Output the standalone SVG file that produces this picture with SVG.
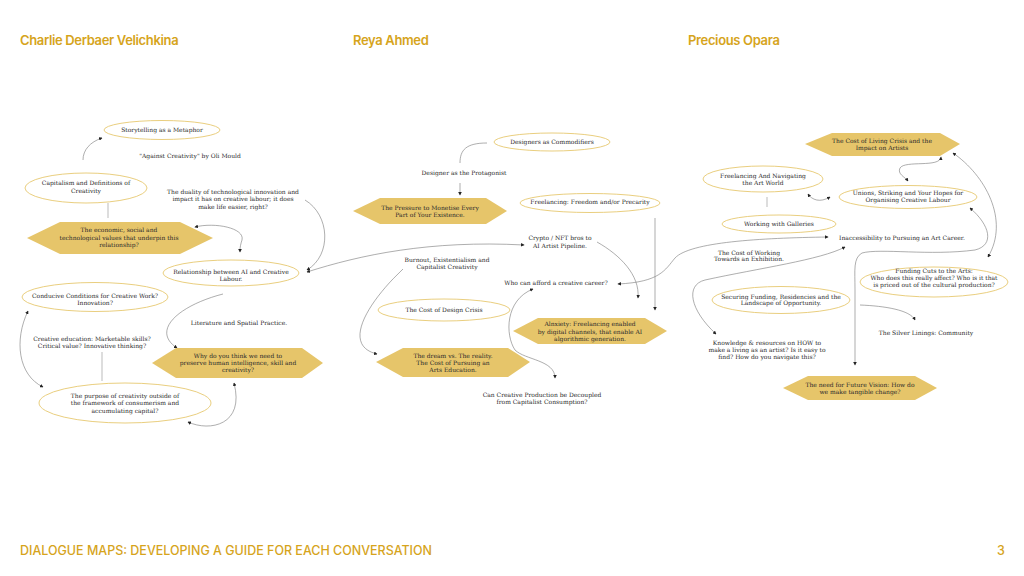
<svg xmlns="http://www.w3.org/2000/svg" width="1024" height="576" viewBox="0 0 1024 576">
<defs>
<style>
.hd{font-family:Inter,"Liberation Sans",sans-serif;font-weight:600;font-size:13px;fill:#D6A41C;letter-spacing:-0.35px}
.ft{font-family:Inter,"Liberation Sans",sans-serif;font-weight:500;font-size:12.5px;fill:#D6A41C}
.t{font-family:"DejaVu Serif","Liberation Serif",serif;font-size:6px;fill:#2a2a2a;text-anchor:middle}
.el{fill:#fff;stroke:#E6C870;stroke-width:0.9}
.hx{fill:#E6C56A;stroke:none}
.ar{fill:none;stroke:#777;stroke-width:0.6}
.vl{fill:none;stroke:#cfcfcf;stroke-width:1.4}
</style>
<marker id="ah" viewBox="0 0 6 6" refX="5" refY="3" markerWidth="3.6" markerHeight="3.6" markerUnits="userSpaceOnUse" orient="auto-start-reverse">
<path d="M0,0 L6,3 L0,6 z" fill="#222"/>
</marker>
</defs>
<rect width="1024" height="576" fill="#fff"/>

<g id="headers">
<text class="hd" x="20" y="45">Charlie Derbaer Velichkina</text>
<text class="hd" x="353" y="45">Reya Ahmed</text>
<text class="hd" x="688" y="45">Precious Opara</text>
<text class="ft" x="20" y="555" textLength="412" lengthAdjust="spacingAndGlyphs">DIALOGUE MAPS: DEVELOPING A GUIDE FOR EACH CONVERSATION</text>
<text class="ft" x="997" y="555">3</text>
</g>

<g id="connectors">
<path class="ar" d="M83,160 C83,150 90,142 102,138" marker-end="url(#ah)"/>
<path class="vl" d="M108,203 L108,218"/>
<path class="ar" d="M195,227 C215,222 245,228 242,240 C240,246 240,249 240,252" marker-start="url(#ah)" marker-end="url(#ah)"/>
<path class="ar" d="M305,200 C330,215 332,255 307,270" marker-end="url(#ah)"/>
<path class="ar" d="M307,272 C360,255 430,240 524,245" marker-start="url(#ah)" marker-end="url(#ah)"/>
<path class="ar" d="M223,294 C180,305 150,330 177,348" marker-end="url(#ah)"/>
<path class="vl" d="M102,352 L102,381"/>
<path class="ar" d="M28,311 C14,340 18,375 43,387" marker-start="url(#ah)" marker-end="url(#ah)"/>
<path class="ar" d="M188,422 C210,432 245,425 234,383" marker-start="url(#ah)" marker-end="url(#ah)"/>

<path class="ar" d="M487,143 C466,143 460,150 460,163"/>
<path class="ar" d="M460,183 L460,195" marker-end="url(#ah)"/>
<path class="ar" d="M655,218 L655,310" marker-end="url(#ah)"/>
<path class="ar" d="M597,242 C620,255 640,275 638,298" marker-end="url(#ah)"/>
<path class="ar" d="M403,269 C370,300 340,345 377,354" marker-end="url(#ah)"/>
<path class="ar" d="M618,284 C660,282 665,270 675,258 C690,242 760,238 828,237" marker-start="url(#ah)" marker-end="url(#ah)"/>
<path class="ar" d="M533,289 C505,300 505,335 515,350 C525,360 555,360 555,378" marker-start="url(#ah)" marker-end="url(#ah)"/>

<path class="ar" d="M808,194 C812,200 820,203 830,197" marker-start="url(#ah)" marker-end="url(#ah)"/>
<path class="ar" d="M941,157 C940,168 905,160 900,168 C897,174 905,177 908,181" marker-start="url(#ah)" marker-end="url(#ah)"/>
<path class="vl" d="M767,197 L767,207"/>
<path class="ar" d="M716,334 C690,310 685,285 705,280 C760,268 820,260 845,247" marker-start="url(#ah)" marker-end="url(#ah)"/>
<path class="ar" d="M953,153 C985,175 1010,220 988,257" marker-start="url(#ah)" marker-end="url(#ah)"/>
<path class="ar" d="M970,208 C990,225 995,245 975,250 C930,256 880,248 862,253 C853,258 855,270 855,290 L855,365" marker-start="url(#ah)" marker-end="url(#ah)"/>
<path class="ar" d="M860,305 C885,306 910,310 915,320" marker-end="url(#ah)"/>
</g>

<g id="n-storytelling"><ellipse class="el" cx="162" cy="130" rx="58" ry="9.5"/><text class="t" x="162" y="131.8">Storytelling as a Metaphor</text></g>
<g id="n-against"><text class="t" x="190" y="158">"Against Creativity" by Oli Mould</text></g>
<g id="n-capitalism"><ellipse class="el" cx="86" cy="188" rx="61" ry="15"/><text class="t" x="86" y="185">Capitalism and Definitions of</text><text class="t" x="86" y="192.5">Creativity</text></g>
<g id="n-economic"><polygon class="hx" points="27,238 60,222 180,222 213,238 180,254 60,254"/><text class="t" x="119" y="232">The economic, social and</text><text class="t" x="119" y="239.5">technological values that underpin this</text><text class="t" x="119" y="247">relationship?</text></g>
<g id="n-duality"><text class="t" x="233" y="193.5">The duality of technological innovation and</text><text class="t" x="233" y="201">impact it has on creative labour; it does</text><text class="t" x="233" y="208.5">make life easier, right?</text></g>
<g id="n-relationship"><ellipse class="el" cx="231" cy="273" rx="68" ry="13"/><text class="t" x="231" y="274">Relationship between AI and Creative</text><text class="t" x="231" y="281">Labour.</text></g>
<g id="n-conducive"><ellipse class="el" cx="95" cy="297" rx="73" ry="14.5"/><text class="t" x="95" y="298">Conducive Conditions for Creative Work?</text><text class="t" x="95" y="305">Innovation?</text></g>
<g id="n-literature"><text class="t" x="239" y="324.5">Literature and Spatial Practice.</text></g>
<g id="n-education"><text class="t" x="92" y="341">Creative education: Marketable skills?</text><text class="t" x="92" y="348">Critical value? Innovative thinking?</text></g>
<g id="n-why"><polygon class="hx" points="152,363 176,348 302,348 323,363 302,378 176,378"/><text class="t" x="238" y="358">Why do you think we need to</text><text class="t" x="238" y="365">preserve human intelligence, skill and</text><text class="t" x="238" y="372">creativity?</text></g>
<g id="n-purpose"><ellipse class="el" cx="125" cy="403" rx="86" ry="20"/><text class="t" x="125" y="397.5">The purpose of creativity outside of</text><text class="t" x="125" y="405">the framework of consumerism and</text><text class="t" x="125" y="412.5">accumulating capital?</text></g>

<g id="n-designers"><ellipse class="el" cx="552" cy="142" rx="58" ry="9"/><text class="t" x="552" y="143.8">Designers as Commodifiers</text></g>
<g id="n-protagonist"><text class="t" x="464" y="175">Designer as the Protagonist</text></g>
<g id="n-pressure"><polygon class="hx" points="353,211 380,198 486,198 507,211 486,224 380,224"/><text class="t" x="430" y="210">The Pressure to Monetise Every</text><text class="t" x="430" y="217">Part of Your Existence.</text></g>
<g id="n-freelancing"><ellipse class="el" cx="590" cy="203" rx="70" ry="9.5"/><text class="t" x="590" y="204">Freelancing: Freedom and/or Precarity</text></g>
<g id="n-crypto"><text class="t" x="560" y="240">Crypto / NFT bros to</text><text class="t" x="560" y="248">AI Artist Pipeline.</text></g>
<g id="n-burnout"><text class="t" x="447" y="261.5">Burnout, Existentialism and</text><text class="t" x="447" y="269">Capitalist Creativity</text></g>
<g id="n-afford"><text class="t" x="556" y="285">Who can afford a creative career?</text></g>
<g id="n-costdesign"><ellipse class="el" cx="444" cy="310" rx="66" ry="11"/><text class="t" x="444" y="312">The Cost of Design Crisis</text></g>
<g id="n-anxiety"><polygon class="hx" points="513,331 538,318 645,318 667,331 645,344 538,344"/><text class="t" x="590" y="326">Alnxiety: Freelancing enabled</text><text class="t" x="590" y="333.5">by digital channels, that enable AI</text><text class="t" x="590" y="341">algorithmic generation.</text></g>
<g id="n-dream"><polygon class="hx" points="376,362 403,348 508,348 530,362 508,377 403,377"/><text class="t" x="453" y="357.5">The dream vs. The reality.</text><text class="t" x="453" y="364.5">The Cost of Pursuing an</text><text class="t" x="453" y="372">Arts Education.</text></g>
<g id="n-decoupled"><text class="t" x="542" y="397">Can Creative Production be Decoupled</text><text class="t" x="542" y="404">from Capitalist Consumption?</text></g>

<g id="n-costliving"><polygon class="hx" points="805,144 832,133 940,133 960,144 940,156 832,156"/><text class="t" x="882" y="142.5">The Cost of Living Crisis and the</text><text class="t" x="882" y="150">Impact on Artists</text></g>
<g id="n-navigating"><ellipse class="el" cx="763" cy="179" rx="60" ry="13"/><text class="t" x="763" y="177.5">Freelancing And Navigating</text><text class="t" x="763" y="184.5">the Art World</text></g>
<g id="n-unions"><ellipse class="el" cx="908" cy="197" rx="69" ry="11.5"/><text class="t" x="908" y="195">Unions, Striking and Your Hopes for</text><text class="t" x="908" y="202">Organising Creative Labour</text></g>
<g id="n-galleries"><ellipse class="el" cx="779" cy="224" rx="57" ry="9"/><text class="t" x="779" y="226">Working with Galleries</text></g>
<g id="n-inaccess"><text class="t" x="902" y="240">Inaccessibility to Pursuing an Art Career.</text></g>
<g id="n-exhibition"><text class="t" x="749" y="254.5">The Cost of Working</text><text class="t" x="749" y="261">Towards an Exhibition.</text></g>
<g id="n-fundingcuts"><ellipse class="el" cx="934" cy="282" rx="74" ry="15"/><text class="t" x="934" y="272.5">Funding Cuts to the Arts:</text><text class="t" x="934" y="280">Who does this really affect? Who is it that</text><text class="t" x="934" y="287">is priced out of the cultural production?</text></g>
<g id="n-securing"><ellipse class="el" cx="781" cy="300" rx="69" ry="13.5"/><text class="t" x="781" y="298.5">Securing Funding, Residencies and the</text><text class="t" x="781" y="305">Landscape of Opportunity.</text></g>
<g id="n-silver"><text class="t" x="926" y="335">The Silver Linings: Community</text></g>
<g id="n-knowledge"><text class="t" x="767" y="345">Knowledge &amp; resources on HOW to</text><text class="t" x="767" y="352">make a living as an artist? Is it easy to</text><text class="t" x="767" y="359">find? How do you navigate this?</text></g>
<g id="n-future"><polygon class="hx" points="783,388 808,376 915,376 937,388 915,400 808,400"/><text class="t" x="860" y="386.5">The need for Future Vision: How do</text><text class="t" x="860" y="393.5">we make tangible change?</text></g>
</svg>
